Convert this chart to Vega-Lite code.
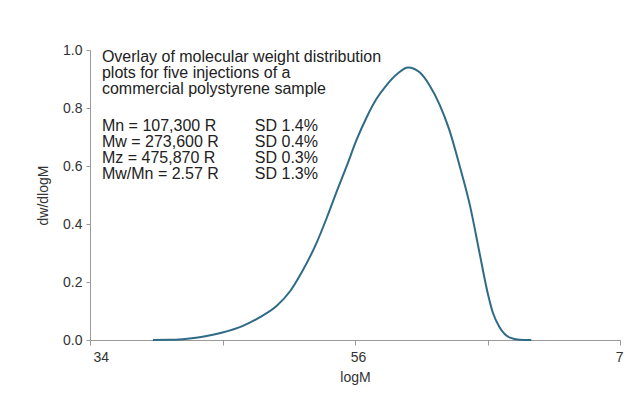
{
  "$schema": "https://vega.github.io/schema/vega-lite/v6.json",
  "width": 530,
  "height": 290,
  "autosize": {"type": "none"},
  "padding": {"left": 90, "top": 50, "right": 24, "bottom": 59},
  "background": "white",
  "config": {"view": {"stroke": null}, "font": "Liberation Sans"},
  "datasets": {
    "curve": [
      {"logM": 3.475, "dw": 0},
      {"logM": 3.6, "dw": 0.0005},
      {"logM": 3.7, "dw": 0.003},
      {"logM": 3.8, "dw": 0.008},
      {"logM": 3.88, "dw": 0.014},
      {"logM": 4.0, "dw": 0.026},
      {"logM": 4.15, "dw": 0.048},
      {"logM": 4.28, "dw": 0.078},
      {"logM": 4.41, "dw": 0.118},
      {"logM": 4.51, "dw": 0.168},
      {"logM": 4.6, "dw": 0.235},
      {"logM": 4.71, "dw": 0.335},
      {"logM": 4.79, "dw": 0.425},
      {"logM": 4.86, "dw": 0.51},
      {"logM": 4.94, "dw": 0.603},
      {"logM": 5.01, "dw": 0.688},
      {"logM": 5.09, "dw": 0.77},
      {"logM": 5.16, "dw": 0.83},
      {"logM": 5.24, "dw": 0.88},
      {"logM": 5.32, "dw": 0.918},
      {"logM": 5.40, "dw": 0.94},
      {"logM": 5.49, "dw": 0.922},
      {"logM": 5.56, "dw": 0.88},
      {"logM": 5.64, "dw": 0.81},
      {"logM": 5.71, "dw": 0.727},
      {"logM": 5.79, "dw": 0.6},
      {"logM": 5.87, "dw": 0.459},
      {"logM": 5.94, "dw": 0.30},
      {"logM": 6.0, "dw": 0.165},
      {"logM": 6.04, "dw": 0.095},
      {"logM": 6.09, "dw": 0.045},
      {"logM": 6.17, "dw": 0.008},
      {"logM": 6.24, "dw": 0.001},
      {"logM": 6.33, "dw": 0}
    ],
    "notes": [
      {"logM": 3.09, "dw": 0.976, "label": "Overlay of molecular weight distribution"},
      {"logM": 3.09, "dw": 0.921, "label": "plots for five injections of a"},
      {"logM": 3.09, "dw": 0.864, "label": "commercial polystyrene sample"},
      {"logM": 3.09, "dw": 0.738, "label": "Mn = 107,300 R"},
      {"logM": 3.09, "dw": 0.683, "label": "Mw = 273,600 R"},
      {"logM": 3.09, "dw": 0.628, "label": "Mz = 475,870 R"},
      {"logM": 3.09, "dw": 0.571, "label": "Mw/Mn = 2.57 R"},
      {"logM": 4.244, "dw": 0.738, "label": "SD 1.4%"},
      {"logM": 4.244, "dw": 0.683, "label": "SD 0.4%"},
      {"logM": 4.244, "dw": 0.628, "label": "SD 0.3%"},
      {"logM": 4.244, "dw": 0.571, "label": "SD 1.3%"}
    ]
  },
  "layer": [
    {
      "data": {"name": "curve"},
      "mark": {"type": "line", "interpolate": "monotone", "color": "#2f6b86", "strokeWidth": 2},
      "encoding": {
        "x": {
          "field": "logM", "type": "quantitative",
          "scale": {"domain": [3, 7], "nice": false, "zero": false},
          "axis": {
            "title": "logM", "values": [3, 4, 5, 6, 7],
            "labelExpr": "datum.value == 3 ? '34' : datum.value == 5 ? '56' : datum.value == 7 ? '7' : ''",
            "grid": false, "domainColor": "#999999", "tickColor": "#999999", "tickSize": 5,
            "labelFontSize": 14, "labelColor": "#333333", "labelPadding": 5, "labelOffset": 3,
            "titleFontSize": 14, "titleFontWeight": "normal", "titleColor": "#333333", "titlePadding": 6
          }
        },
        "y": {
          "field": "dw", "type": "quantitative",
          "scale": {"domain": [0, 1], "nice": false},
          "axis": {
            "title": "dw/dlogM", "values": [0, 0.2, 0.4, 0.6, 0.8, 1.0], "format": ".1f",
            "grid": false, "domainColor": "#999999", "tickColor": "#999999", "tickSize": 4,
            "labelFontSize": 14, "labelColor": "#333333", "labelPadding": 4,
            "titleFontSize": 14, "titleFontWeight": "normal", "titleColor": "#333333", "titlePadding": 12
          }
        }
      }
    },
    {
      "data": {"name": "notes"},
      "mark": {"type": "text", "align": "left", "baseline": "middle", "fontSize": 16, "color": "#222222"},
      "encoding": {
        "x": {"field": "logM", "type": "quantitative"},
        "y": {"field": "dw", "type": "quantitative"},
        "text": {"field": "label"}
      }
    }
  ]
}
